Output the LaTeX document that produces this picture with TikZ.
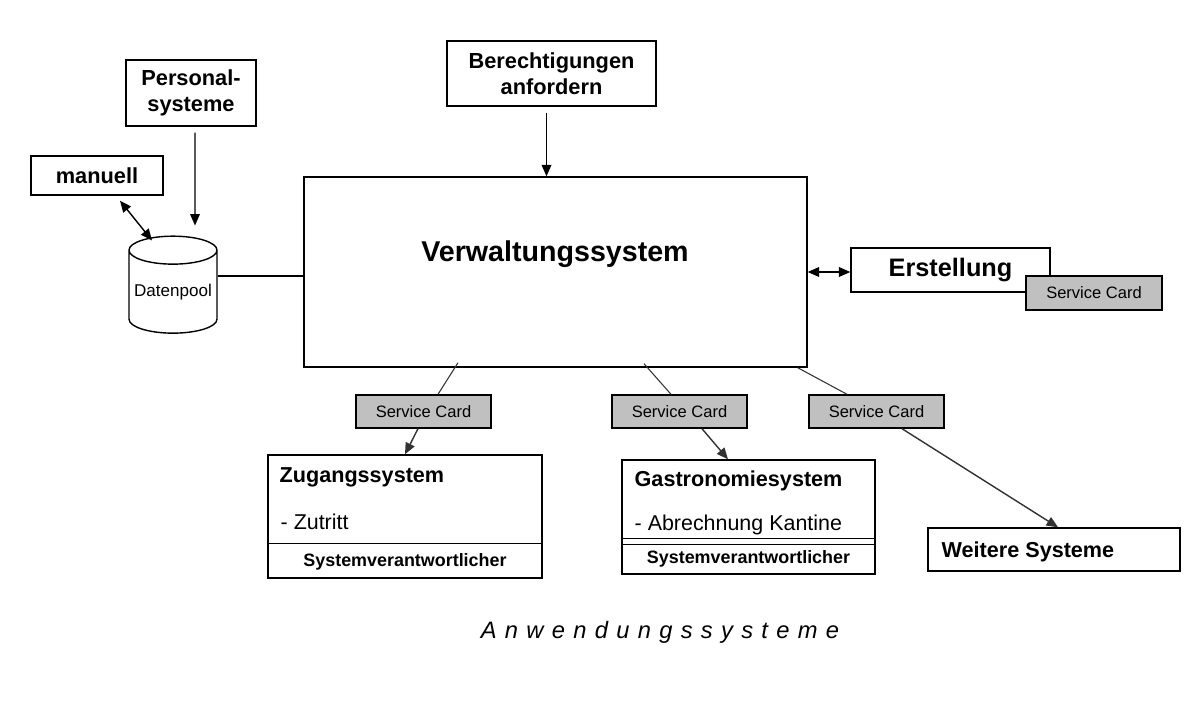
\documentclass[tikz,border=0pt]{standalone}
\usepackage{fontspec}
\setmainfont{Liberation Sans}
\usetikzlibrary{arrows.meta,shapes.geometric,calc,positioning}
\definecolor{cardgray}{RGB}{192,192,192}
\definecolor{linegray}{RGB}{50,50,50}
\tikzstyle{every node}=[text centered, inner sep=0pt]
\tikzstyle{box}=[draw, line width=0.8pt, fill=white]
\tikzstyle{card}=[draw, line width=0.8pt, fill=cardgray, minimum width=2.7cm, minimum height=0.66cm, font=\fontsize{9.4}{11}\selectfont]
\tikzstyle{head}=[font=\bfseries\fontsize{12.4}{15}\selectfont, align=center]
\tikzstyle{title}=[font=\bfseries\fontsize{12.3}{14}\selectfont, anchor=west]
\tikzstyle{item}=[font=\fontsize{12.2}{14}\selectfont, anchor=west]
\tikzstyle{resp}=[font=\bfseries\fontsize{10.2}{12}\selectfont]
\tikzstyle{line} = [draw, line width=0.8pt, -{Triangle[length=6.5pt,width=5.5pt]}]
\tikzstyle{dline} = [draw, line width=0.8pt, {Triangle[length=6.5pt,width=5.5pt]}-{Triangle[length=6.5pt,width=5.5pt]}]
\tikzstyle{thin} = [draw, line width=0.6pt, color=linegray]

\begin{document}
\begin{tikzpicture}[x=0.02cm,y=-0.02cm]
    \useasboundingbox (0,0) rectangle (1200,700);

    % sources on the left
    \node[box, head, minimum width=2.6cm, minimum height=1.32cm] (pers) at (191,93) {Personal-\\systeme};
    \node[box, head, minimum width=2.64cm, minimum height=0.78cm] (man) at (97,175.5) {manuell};
    \node[cylinder, shape border rotate=90, draw, line width=0.8pt, aspect=0.36, minimum width=1.76cm, minimum height=1.94cm, font=\fontsize{9.7}{11}\selectfont] (pool) at (173,292) {Datenpool};

    % core
    \node[box, head, minimum width=4.18cm, minimum height=1.30cm] (ber) at (551.5,73.5) {Berechtigungen\\anfordern};
    \node[box, minimum width=10.06cm, minimum height=3.80cm] (verw) at (555.5,272) {};
    \node[font=\bfseries\fontsize{16.3}{19}\selectfont] (verwtitle) at (555,254) {Verwaltungssystem};

    \node[box, minimum width=3.98cm, minimum height=0.88cm, font=\bfseries\fontsize{14.4}{17}\selectfont] (erst) at (950.5,270) {Erstellung};
    \node[card, minimum width=2.72cm, minimum height=0.68cm] (sc0) at (1094,293) {Service Card};

    % service cards
    \node[card] (sc1) at (423.5,411.5) {Service Card};
    \node[card] (sc2) at (679.5,411.5) {Service Card};
    \node[card] (sc3) at (876.5,411.5) {Service Card};

    % application systems
    \node[box, minimum width=5.48cm, minimum height=2.46cm] (zug) at (405,516.5) {};
    \node[title] (zugtitle) at ($(zug.north west)+(12,23)$) {Zugangssystem};
    \node[item] (zugitem) at ($(zug.north west)+(13,68)$) {- Zutritt};
    \draw[line width=0.8pt] ($(zug.south west)+(0,-35)$) -- ($(zug.south east)+(0,-35)$);
    \node[resp] (zugresp) at ($(zug.south)+(0,-17)$) {Systemverantwortlicher};

    \node[box, minimum width=5.06cm, minimum height=2.28cm] (gas) at (748.5,517) {};
    \node[title] (gastitle) at ($(gas.north west)+(13,22)$) {Gastronomiesystem};
    \node[item] (gasitem) at ($(gas.north west)+(13,66)$) {- Abrechnung Kantine};
    \draw[line width=0.8pt] ($(gas.south west)+(0,-36)$) -- ($(gas.south east)+(0,-36)$);
    \draw[line width=0.8pt] ($(gas.south west)+(0,-30)$) -- ($(gas.south east)+(0,-30)$);
    \node[resp] (gasresp) at ($(gas.south)+(0,-16)$) {Systemverantwortlicher};

    \node[box, minimum width=5.04cm, minimum height=0.86cm] (weit) at (1054,549.5) {};
    \node[title] (weittitle) at ($(weit.west)+(14,2)$) {Weitere Systeme};

    \node[font=\itshape\fontsize{13.5}{16}\selectfont\addfontfeature{LetterSpace=35}] (anw) at (660,632) {Anwendungssysteme};

    % connectors
    \draw[line] ([xshift=0.08cm,yshift=-0.12cm]pers.south) -- ([xshift=0.44cm,yshift=0.2cm]pool.north);
    \draw[dline] ([xshift=0.46cm,yshift=-0.1cm]man.south) -- ([xshift=-0.42cm,yshift=-0.1cm]pool.north);
    \draw[line width=0.8pt] ([yshift=-0.08cm]verw.west) -- ([yshift=-0.08cm]verw.west -| pool.east);
    \draw[line] ([xshift=-0.1cm,yshift=-0.12cm]ber.south) -- ([xshift=-0.1cm]ber.south |- verw.north);
    \draw[dline] (verw.east) -- (verw.east -| erst.west);

    \draw[thin] ([xshift=-1.95cm,yshift=0.1cm]verw.south) -- ([xshift=0.29cm]sc1.north);
    \draw[thin, line] ([xshift=-0.11cm]sc1.south) -- (zug.north);
    \draw[thin] ([xshift=1.77cm,yshift=0.08cm]verw.south) -- ([xshift=-0.17cm]sc2.north);
    \draw[thin, line] ([xshift=0.45cm]sc2.south) -- ([xshift=-0.41cm]gas.north);
    \draw[thin] ([xshift=-0.2cm]verw.south east) -- ([xshift=-0.59cm]sc3.north);
    \draw[thin, line] ([xshift=0.51cm]sc3.south) -- ([xshift=0.08cm]weit.north);

\end{tikzpicture}
\end{document}
